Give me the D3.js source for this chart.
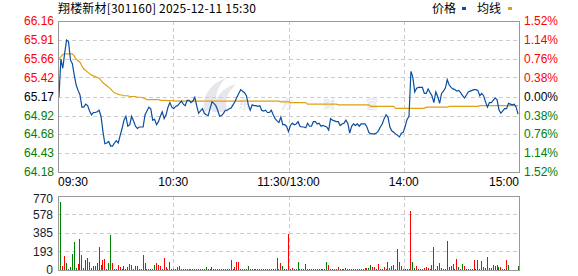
<!DOCTYPE html>
<html lang="zh">
<head>
<meta charset="utf-8">
<title>翔楼新材 分时</title>
<script src="https://cdn.jsdelivr.net/npm/d3@7"></script>
<style>
  body { margin: 0; background: #fff; }
  text { font-family: Arial, "Liberation Sans", sans-serif; font-size: 12px; }
  .cjk { font-family: "Noto Sans CJK SC", sans-serif; }
</style>
</head>
<body>
<script>

// minute prices 09:30 .. 11:30, 13:01 .. 15:00 (241 points)
const priceVals = [
  65.16,65.66,65.54,65.74,65.91,65.89,65.65,65.60,65.45,65.32,
  65.25,65.19,65.03,65.03,65.07,65.05,64.98,64.93,64.96,64.96,
  64.97,64.99,64.91,64.71,64.55,64.56,64.58,64.52,64.52,64.56,
  64.59,64.56,64.66,64.75,64.86,64.91,64.78,64.80,64.91,64.85,
  64.78,64.75,64.77,64.77,64.77,64.93,64.98,65.03,65.01,64.86,
  64.87,64.80,64.84,64.91,64.97,64.88,64.93,65.03,65.09,65.03,
  65.01,65.04,65.05,65.08,65.11,65.07,65.05,65.12,65.12,65.09,
  65.11,65.16,65.05,64.95,64.98,65.01,64.95,64.93,64.92,65.01,
  65.10,65.08,65.05,64.99,64.91,64.92,64.95,64.99,64.99,65.01,
  65.02,65.06,65.10,65.16,65.21,65.26,65.24,65.22,65.18,65.06,
  64.99,65.06,65.05,65.05,65.04,65.05,64.99,64.98,64.99,64.96,
  64.96,64.99,64.93,64.88,64.85,64.83,64.90,64.80,64.80,64.78,
  64.71,64.79,64.82,64.80,64.81,64.84,64.78,64.77,64.77,64.76,
  64.82,64.78,64.78,64.84,64.84,64.81,64.82,64.78,64.79,64.78,
  64.77,64.73,64.88,64.86,64.85,64.84,64.84,64.79,64.81,64.82,
  64.86,64.82,64.69,64.78,64.81,64.79,64.81,64.78,64.81,64.81,
  64.81,64.77,64.70,64.68,64.68,64.68,64.69,64.72,64.77,64.81,
  64.88,64.93,64.90,64.77,64.72,64.70,64.68,64.66,64.64,64.69,
  64.70,64.78,64.87,64.91,65.50,65.42,65.23,65.28,65.29,65.29,
  65.29,65.21,65.21,65.27,65.22,65.18,65.09,65.23,65.17,65.08,
  65.21,65.24,65.28,65.39,65.32,65.29,65.27,65.26,65.24,65.25,
  65.22,65.18,65.15,65.19,65.23,65.24,65.25,65.26,65.26,65.25,
  65.18,65.21,65.18,65.10,65.03,65.09,65.09,65.12,65.15,65.13,
  65.00,64.95,64.98,65.01,65.01,65.08,65.07,65.06,65.07,65.03,
  64.94
];

const avgVals = [
  65.66,65.69,65.72,65.73,65.73,65.73,65.73,65.73,65.70,65.66,
  65.64,65.62,65.57,65.53,65.51,65.49,65.47,65.45,65.44,65.43,
  65.42,65.41,65.38,65.35,65.33,65.31,65.29,65.27,65.24,65.22,
  65.21,65.20,65.19,65.19,65.18,65.18,65.18,65.17,65.17,65.17,
  65.17,65.16,65.16,65.16,65.15,65.14,65.13,65.13,65.13,65.13,
  65.13,65.13,65.13,65.12,65.12,65.12,65.12,65.115,65.115,65.115,
  65.115,65.11,65.11,65.11,65.11,65.11,65.11,65.11,65.11,65.11,
  65.11,65.11,65.11,65.11,65.11,65.11,65.11,65.11,65.11,65.11,
  65.11,65.11,65.11,65.11,65.11,65.11,65.11,65.11,65.11,65.11,
  65.11,65.11,65.11,65.11,65.11,65.11,65.11,65.11,65.11,65.11,
  65.11,65.11,65.11,65.11,65.11,65.11,65.11,65.11,65.11,65.11,
  65.11,65.11,65.11,65.11,65.11,65.11,65.10,65.10,65.10,65.10,
  65.10,65.09,65.09,65.09,65.09,65.09,65.09,65.09,65.09,65.09,
  65.07,65.07,65.07,65.07,65.07,65.07,65.07,65.07,65.07,65.07,
  65.07,65.07,65.07,65.07,65.07,65.07,65.06,65.06,65.06,65.06,
  65.06,65.06,65.06,65.06,65.06,65.06,65.06,65.06,65.06,65.06,
  65.06,65.06,65.06,65.04,65.04,65.04,65.04,65.04,65.04,65.04,
  65.04,65.04,65.04,65.04,65.04,65.04,65.015,65.015,65.015,65.015,
  65.015,65.015,65.015,65.015,65.015,65.015,65.015,65.015,65.015,65.015,
  65.015,65.015,65.03,65.03,65.03,65.03,65.03,65.03,65.03,65.03,
  65.03,65.03,65.03,65.03,65.04,65.04,65.04,65.04,65.04,65.04,
  65.04,65.04,65.04,65.04,65.04,65.04,65.04,65.04,65.04,65.04,
  65.05,65.05,65.05,65.05,65.05,65.05,65.05,65.05,65.05,65.05,
  65.05,65.05,65.05,65.05,65.05,65.05,65.05,65.05,65.05,65.05,
  65.05
];

// volume per minute (手) and its colour: u = red, d = green
const volVals = [
  478,711,42,146,73,10,31,166,291,17,
  62,322,156,17,104,125,83,17,42,42,
  73,239,52,104,114,10,73,364,73,10,
  10,52,31,10,42,10,31,62,52,10,
  42,42,10,10,156,73,10,10,10,10,
  52,73,52,42,10,125,31,10,83,10,
  10,10,31,42,10,10,10,10,10,10,
  10,10,10,10,10,10,10,31,10,10,
  31,5,10,10,5,10,10,10,10,10,
  104,10,31,83,83,10,10,10,10,42,
  10,10,10,10,10,10,10,10,10,10,
  10,10,10,10,125,10,73,42,10,10,
  374,10,17,10,5,83,10,10,10,62,
  10,10,10,10,10,10,10,10,10,10,
  83,52,10,10,10,10,31,10,10,10,
  21,10,10,10,10,10,10,10,10,10,
  17,21,21,52,31,31,10,62,10,10,
  31,10,83,17,42,52,10,218,83,42,
  10,10,10,10,617,83,17,42,10,10,
  10,21,31,21,10,52,239,10,42,73,
  17,10,10,302,31,42,62,10,114,31,
  10,62,42,10,10,10,10,104,10,104,
  10,94,31,21,135,21,21,52,42,52,
  31,31,10,10,104,52,0,0,0,0,
  42
];
const volDir = [
  "u","d","u","u","d","d","d","d","d","d",
  "u","d","u","u","d","d","u","u","d","d",
  "d","d","d","u","u","u","d","d","u","d",
  "d","u","u","d","u","d","d","u","d","d",
  "d","u","u","u","u","u","u","u","d","d",
  "d","u","u","u","u","u","u","d","d","d",
  "u","d","u","u","u","u","u","u","d","d",
  "d","d","d","d","d","d","d","d","d","u",
  "d","u","d","d","u","u","u","d","u","u",
  "u","u","u","u","u","d","d","u","u","d",
  "d","u","d","u","u","u","u","u","d","u",
  "d","d","d","d","d","u","u","d","u","u",
  "u","u","u","u","u","d","u","u","d","u",
  "u","u","u","u","u","u","u","u","u","u",
  "d","u","d","d","d","d","u","u","u","u",
  "u","u","u","u","u","u","u","u","u","u",
  "d","u","d","d","u","u","d","u","d","d",
  "u","d","d","d","d","d","d","d","u","u",
  "u","u","u","u","u","d","d","u","u","u",
  "u","u","u","u","d","d","u","u","d","u",
  "u","u","u","u","d","d","d","d","u","d",
  "d","d","u","u","u","u","u","u","u","d",
  "d","u","d","d","u","d","u","u","d","d",
  "d","u","d","d","u","d","d","d","d","d",
  "d"
];

const priceTicks = ["66.16","65.91","65.66","65.42","65.17","64.92","64.68","64.43","64.18"];
const pctTicks = ["1.52%","1.14%","0.76%","0.38%","0.00%","0.38%","0.76%","1.14%","1.52%"];
const volTicks = ["770","578","385","193","0"];
const timeTicks = ["09:30","10:30","11:30/13:00","14:00","15:00"];
const timeTickIdx = [0, 60, 120, 180, 240];

/* layout */
const W = 578, H = 276;
const L = 58, R = 519, T = 21, B = 172;
const VT = 196, VB = 270;
const RED = "#ff0000", GREEN = "#008000";

const svg = d3.select("body").append("svg")
  .attr("width", W).attr("height", H);

const x = d3.scaleLinear().domain([-0.5, 240.5]).range([L, R]);
const xGrid = d3.scaleLinear().domain([0, 240]).range([L, R]);
const y = d3.scaleLinear().domain([64.18, 66.16]).range([B, T]);
const yv = d3.scaleLinear().domain([0, 770]).range([VB, VT]);

function tickColor(i) {
  return i < 4 ? RED : (i === 4 ? "#000" : GREEN);
}

/* watermark */
const wm = svg.append("g").attr("fill", "#e8e8ed");
wm.append("path")
  .attr("d", "M204,112 C202,96 210,84 226,78 C216,88 214,98 218,108 Z M212,112 C214,98 222,88 236,84 C226,94 224,102 228,112 Z")
  .attr("fill", "#e6e6ec");
wm.append("text").attr("class", "cjk")
  .attr("x", 238).attr("y", 109)
  .attr("font-size", 32).attr("font-weight", "bold")
  .attr("textLength", 140).attr("lengthAdjust", "spacing")
  .text("东方财富");

/* grids */
const grid = svg.append("g")
  .attr("stroke", "#cccccc").attr("stroke-dasharray", "4,3")
  .attr("shape-rendering", "crispEdges");

priceTicks.slice(1, -1).forEach(t => {
  grid.append("line").attr("x1", L).attr("x2", R)
    .attr("y1", Math.round(y(+t)) + 0.5).attr("y2", Math.round(y(+t)) + 0.5);
});
volTicks.slice(1, -1).forEach(t => {
  grid.append("line").attr("x1", L).attr("x2", R)
    .attr("y1", Math.round(yv(+t)) + 0.5).attr("y2", Math.round(yv(+t)) + 0.5);
});
timeTickIdx.slice(1, -1).forEach(i => {
  const gx = Math.round(xGrid(i)) + 0.5;
  grid.append("line").attr("x1", gx).attr("x2", gx).attr("y1", T).attr("y2", B);
  grid.append("line").attr("x1", gx).attr("x2", gx).attr("y1", VT).attr("y2", VB);
});

/* volume bars */
svg.append("g").attr("shape-rendering", "crispEdges")
  .selectAll("rect").data(volVals).join("rect")
  .attr("x", (d, i) => Math.floor(x(i)))
  .attr("width", 1)
  .attr("y", d => d > 0 ? Math.min(yv(d), VB - 1) : VB)
  .attr("height", d => d > 0 ? Math.max(VB - yv(d), 1) : 0)
  .attr("fill", (d, i) => volDir[i] === "u" ? RED : GREEN);

/* lines */
const line = d3.line().x((d, i) => x(i)).y(d => y(d));
svg.append("path").datum(avgVals)
  .attr("d", line).attr("fill", "none")
  .attr("stroke", "#e0a010").attr("stroke-width", 1.2);
svg.append("path").datum(priceVals)
  .attr("d", line).attr("fill", "none")
  .attr("stroke", "#0a4ea0").attr("stroke-width", 1.2);

/* frames */
[[T, B], [VT, VB]].forEach(([t, b]) => {
  svg.append("rect")
    .attr("x", L + 0.5).attr("y", t + 0.5)
    .attr("width", R - L).attr("height", b - t)
    .attr("fill", "none").attr("stroke", "#999")
    .attr("shape-rendering", "crispEdges");
});

/* axis labels */
priceTicks.forEach((t, i) => {
  svg.append("text").attr("x", 54).attr("y", y(+t))
    .attr("dy", "0.36em").attr("text-anchor", "end")
    .attr("fill", tickColor(i)).text(t);
});
pctTicks.forEach((t, i) => {
  svg.append("text").attr("x", 524).attr("y", y(+priceTicks[i]))
    .attr("dy", "0.36em").attr("fill", tickColor(i)).text(t);
});
volTicks.forEach(t => {
  svg.append("text").attr("x", 53).attr("y", Math.max(yv(+t), 199))
    .attr("dy", "0.36em").attr("text-anchor", "end")
    .attr("fill", "#1a1a2e").text(t);
});
timeTicks.forEach((t, k) => {
  const anchor = k === 0 ? "start" : (k === timeTicks.length - 1 ? "end" : "middle");
  svg.append("text").attr("x", xGrid(timeTickIdx[k])).attr("y", 182)
    .attr("dy", "0.36em").attr("text-anchor", anchor)
    .attr("fill", "#000").text(t);
});

/* title + legend */
svg.append("text").attr("class", "cjk")
  .attr("x", L).attr("y", 9).attr("dy", "0.36em")
  .attr("textLength", 198).attr("lengthAdjust", "spacing")
  .attr("fill", "#000").text("翔楼新材[301160] 2025-12-11 15:30");

svg.append("text").attr("class", "cjk").attr("x", 432).attr("y", 9)
  .attr("dy", "0.36em").attr("fill", "#000").text("价格");
svg.append("rect").attr("x", 462).attr("y", 7).attr("width", 4).attr("height", 3)
  .attr("fill", "#0a4ea0");
svg.append("text").attr("class", "cjk").attr("x", 477).attr("y", 9)
  .attr("dy", "0.36em").attr("fill", "#000").text("均线");
svg.append("rect").attr("x", 508).attr("y", 7).attr("width", 4).attr("height", 3)
  .attr("fill", "#e0a010");

</script>
</body>
</html>
